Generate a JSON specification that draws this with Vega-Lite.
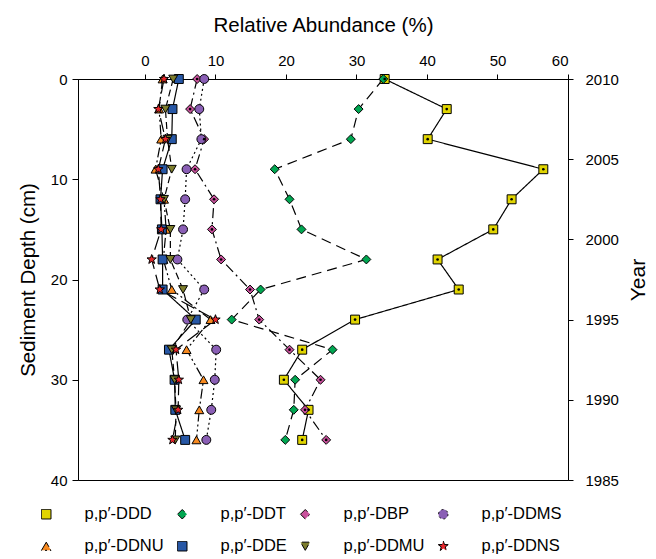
{
  "$schema": "https://vega.github.io/schema/vega-lite/v6.json",
  "width": 490,
  "height": 401,
  "autosize": {"type": "none"},
  "padding": {"left": 78, "top": 79, "right": 88, "bottom": 79},
  "background": "white",
  "config": {
    "view": {"stroke": "black", "strokeWidth": 1},
    "font": "Liberation Sans",
    "axis": {
      "grid": false,
      "domainColor": "black",
      "tickColor": "black",
      "labelColor": "black",
      "titleColor": "black",
      "labelFont": "Liberation Sans",
      "titleFont": "Liberation Sans",
      "titleFontWeight": "normal",
      "labelFontSize": 15,
      "titleFontSize": 20.5
    },
    "legend": {"labelFont": "Liberation Sans", "labelColor": "black", "gridAlign": "none"}
  },
  "data": {
    "values": [
      {"s": "DDD", "d": 0, "v": 34.0}, {"s": "DDD", "d": 3, "v": 42.8}, {"s": "DDD", "d": 6, "v": 40.1}, {"s": "DDD", "d": 9, "v": 56.5}, {"s": "DDD", "d": 12, "v": 52.0}, {"s": "DDD", "d": 15, "v": 49.4}, {"s": "DDD", "d": 18, "v": 41.5}, {"s": "DDD", "d": 21, "v": 44.5}, {"s": "DDD", "d": 24, "v": 29.8}, {"s": "DDD", "d": 27, "v": 22.3}, {"s": "DDD", "d": 30, "v": 19.7}, {"s": "DDD", "d": 33, "v": 23.2}, {"s": "DDD", "d": 36, "v": 22.3},
      {"s": "DDT", "d": 0, "v": 33.8}, {"s": "DDT", "d": 3, "v": 30.3}, {"s": "DDT", "d": 6, "v": 29.2}, {"s": "DDT", "d": 9, "v": 18.4}, {"s": "DDT", "d": 12, "v": 20.5}, {"s": "DDT", "d": 15, "v": 22.2}, {"s": "DDT", "d": 18, "v": 31.4}, {"s": "DDT", "d": 21, "v": 16.4}, {"s": "DDT", "d": 24, "v": 12.3}, {"s": "DDT", "d": 27, "v": 26.6}, {"s": "DDT", "d": 30, "v": 21.3}, {"s": "DDT", "d": 33, "v": 21.1}, {"s": "DDT", "d": 36, "v": 19.9},
      {"s": "DBP", "d": 0, "v": 7.4}, {"s": "DBP", "d": 3, "v": 6.4}, {"s": "DBP", "d": 6, "v": 8.4}, {"s": "DBP", "d": 9, "v": 7.1}, {"s": "DBP", "d": 12, "v": 9.8}, {"s": "DBP", "d": 15, "v": 9.5}, {"s": "DBP", "d": 18, "v": 10.8}, {"s": "DBP", "d": 21, "v": 14.9}, {"s": "DBP", "d": 24, "v": 16.2}, {"s": "DBP", "d": 27, "v": 20.5}, {"s": "DBP", "d": 30, "v": 24.9}, {"s": "DBP", "d": 33, "v": 22.7}, {"s": "DBP", "d": 36, "v": 25.7},
      {"s": "DDMS", "d": 0, "v": 8.4}, {"s": "DDMS", "d": 3, "v": 7.7}, {"s": "DDMS", "d": 6, "v": 8.0}, {"s": "DDMS", "d": 9, "v": 5.9}, {"s": "DDMS", "d": 12, "v": 5.7}, {"s": "DDMS", "d": 15, "v": 5.4}, {"s": "DDMS", "d": 18, "v": 4.6}, {"s": "DDMS", "d": 21, "v": 8.4}, {"s": "DDMS", "d": 24, "v": 6.0}, {"s": "DDMS", "d": 27, "v": 10.1}, {"s": "DDMS", "d": 30, "v": 9.9}, {"s": "DDMS", "d": 33, "v": 9.4}, {"s": "DDMS", "d": 36, "v": 8.7},
      {"s": "DDNU", "d": 0, "v": 2.5}, {"s": "DDNU", "d": 3, "v": 2.0}, {"s": "DDNU", "d": 6, "v": 2.3}, {"s": "DDNU", "d": 9, "v": 1.5}, {"s": "DDNU", "d": 12, "v": 2.7}, {"s": "DDNU", "d": 15, "v": 3.0}, {"s": "DDNU", "d": 18, "v": 2.6}, {"s": "DDNU", "d": 21, "v": 3.8}, {"s": "DDNU", "d": 24, "v": 9.3}, {"s": "DDNU", "d": 27, "v": 5.9}, {"s": "DDNU", "d": 30, "v": 8.3}, {"s": "DDNU", "d": 33, "v": 7.7}, {"s": "DDNU", "d": 36, "v": 7.3},
      {"s": "DDE", "d": 0, "v": 4.8}, {"s": "DDE", "d": 3, "v": 3.9}, {"s": "DDE", "d": 6, "v": 3.8}, {"s": "DDE", "d": 9, "v": 2.5}, {"s": "DDE", "d": 12, "v": 2.2}, {"s": "DDE", "d": 15, "v": 2.4}, {"s": "DDE", "d": 18, "v": 2.5}, {"s": "DDE", "d": 21, "v": 2.5}, {"s": "DDE", "d": 24, "v": 7.2}, {"s": "DDE", "d": 27, "v": 3.4}, {"s": "DDE", "d": 30, "v": 4.2}, {"s": "DDE", "d": 33, "v": 4.3}, {"s": "DDE", "d": 36, "v": 5.7},
      {"s": "DDMU", "d": 0, "v": 4.0}, {"s": "DDMU", "d": 3, "v": 2.9}, {"s": "DDMU", "d": 6, "v": 3.2}, {"s": "DDMU", "d": 9, "v": 3.8}, {"s": "DDMU", "d": 12, "v": 2.7}, {"s": "DDMU", "d": 15, "v": 3.6}, {"s": "DDMU", "d": 18, "v": 3.6}, {"s": "DDMU", "d": 21, "v": 5.4}, {"s": "DDMU", "d": 24, "v": 6.5}, {"s": "DDMU", "d": 27, "v": 3.8}, {"s": "DDMU", "d": 30, "v": 4.2}, {"s": "DDMU", "d": 33, "v": 4.4}, {"s": "DDMU", "d": 36, "v": 4.3},
      {"s": "DDNS", "d": 0, "v": 2.7}, {"s": "DDNS", "d": 3, "v": 1.9}, {"s": "DDNS", "d": 6, "v": 2.9}, {"s": "DDNS", "d": 9, "v": 1.9}, {"s": "DDNS", "d": 12, "v": 2.2}, {"s": "DDNS", "d": 15, "v": 2.3}, {"s": "DDNS", "d": 18, "v": 0.95}, {"s": "DDNS", "d": 21, "v": 2.1}, {"s": "DDNS", "d": 24, "v": 10.0}, {"s": "DDNS", "d": 27, "v": 4.4}, {"s": "DDNS", "d": 30, "v": 4.8}, {"s": "DDNS", "d": 33, "v": 4.7}, {"s": "DDNS", "d": 36, "v": 3.9}
    ]
  },
  "layer": [
    {
      "layer": [
        {
          "mark": {"type": "line", "color": "black", "strokeWidth": 1.2},
          "encoding": {
            "x": {"field": "v", "type": "quantitative", "scale": {"domain": [-9.5, 60], "nice": false, "zero": false},
              "axis": {"orient": "top", "title": "Relative Abundance (%)", "values": [0, 10, 20, 30, 40, 50, 60], "tickSize": 5, "labelPadding": 6, "titlePadding": 18}},
            "y": {"field": "d", "type": "quantitative", "scale": {"domain": [0, 40], "reverse": true, "nice": false, "zero": false},
              "axis": {"orient": "left", "title": "Sediment Depth (cm)", "values": [0, 10, 20, 30, 40], "tickSize": 6, "labelPadding": 5, "titlePadding": 12}},
            "detail": {"field": "s"},
            "strokeDash": {"field": "s", "type": "nominal",
              "scale": {"domain": ["DDD", "DDT", "DBP", "DDMS", "DDNU", "DDE", "DDMU", "DDNS"],
                "range": [[1, 0], [10, 6], [10, 4, 2, 4], [2, 3], [10, 3, 2, 3, 2, 3], [1, 0], [7, 4], [14, 6]]}},
            "order": {"field": "d", "type": "quantitative"}
          }
        },
        {
          "mark": {"type": "point", "filled": true, "opacity": 1, "size": 80, "stroke": "black", "strokeWidth": 1},
          "encoding": {
            "x": {"field": "v", "type": "quantitative"},
            "y": {"field": "d", "type": "quantitative"},
            "shape": {"field": "s", "type": "nominal",
              "scale": {"domain": ["DDD", "DDT", "DBP", "DDMS", "DDNU", "DDE", "DDMU", "DDNS"],
                "range": ["square", "diamond", "diamond", "circle", "triangle-up", "square", "triangle-down", "M0,-1.1L0.265,-0.364L1.046,-0.34L0.428,0.139L0.647,0.89L0,0.45L-0.647,0.89L-0.428,0.139L-1.046,-0.34L-0.265,-0.364Z"]}},
            "fill": {"field": "s", "type": "nominal",
              "scale": {"domain": ["DDD", "DDT", "DBP", "DDMS", "DDNU", "DDE", "DDMU", "DDNS"],
                "range": ["#e0d400", "#00a651", "#c9519c", "#8a5fb5", "#f7891f", "#2757a5", "#7d7d2c", "#e8262b"]},
              "legend": {
                "title": null, "orient": "none", "legendX": -40, "legendY": 427, "direction": "horizontal", "columns": 4, "gridAlign": "none", "columnPadding": 10, "rowPadding": 15,
                "symbolSize": 90, "symbolStrokeColor": "black", "symbolStrokeWidth": 1, "symbolDash": [1, 0],
                "labelFontSize": 16.5, "labelOffset": 30,
                "labelExpr": "'p,p′-' + datum.label"
              }
            }
          }
        },
        {
          "transform": [{"filter": "datum.s == 'DDD' || datum.s == 'DBP'"}],
          "mark": {"type": "point", "filled": true, "color": "black", "size": 7, "opacity": 1},
          "encoding": {
            "x": {"field": "v", "type": "quantitative"},
            "y": {"field": "d", "type": "quantitative"}
          }
        }
      ]
    },
    {
      "data": {"values": [{"yr": 1985}, {"yr": 2010}]},
      "mark": {"type": "point", "opacity": 0},
      "encoding": {
        "y": {"field": "yr", "type": "quantitative", "scale": {"domain": [1985, 2010], "nice": false, "zero": false},
          "axis": {"orient": "right", "title": "Year", "values": [1985, 1990, 1995, 2000, 2005, 2010], "format": "d", "tickSize": 5, "labelPadding": 12, "titlePadding": 30, "titleAngle": 270, "titleFontSize": 21}}
      }
    }
  ],
  "resolve": {"scale": {"y": "independent"}}
}
